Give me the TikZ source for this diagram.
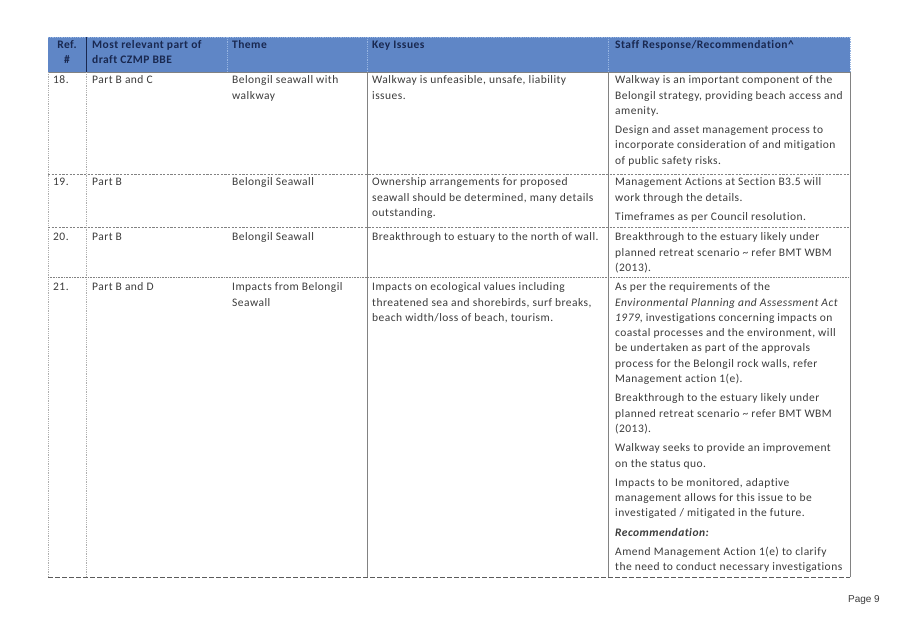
\documentclass[tikz,border=0pt]{standalone}
\usepackage{fontspec}
\setmainfont{Carlito}[LetterSpace=4.0, Ligatures={NoCommon}]
\newfontfamily\pagefont{Liberation Sans}
\definecolor{hdr}{RGB}{95,134,198}
\definecolor{hdrline}{RGB}{150,180,225}
\definecolor{hdrtext}{RGB}{25,40,80}
\definecolor{bodytext}{RGB}{60,60,60}
\definecolor{gridc}{RGB}{130,130,130}
\definecolor{gridl}{RGB}{175,175,175}
\newcommand\tstrut{\rule{0pt}{11pt}}
\begin{document}
\begin{tikzpicture}[x=1pt,y=-1pt,
  cell/.style={anchor=north west, inner sep=0pt, align=left,
    font=\fontsize{11.5}{15.3}\selectfont, text=bodytext},
  hcell/.style={anchor=north west, inner sep=0pt, align=left,
    font=\fontsize{11.5}{14.5}\selectfont\bfseries, text=hdrtext},
  rowdash/.style={draw=gridc, line width=0.8pt, dash pattern=on 2.2pt off 1.4pt},
  rowdot/.style={draw=gridc, line width=0.7pt, dash pattern=on 0.8pt off 0.8pt},
  botdash/.style={draw=gridc!70!black, line width=0.9pt, dash pattern=on 5pt off 2pt},
  vsolid/.style={draw=gridc, line width=0.7pt},
  vdot/.style={draw=gridl, line width=0.7pt, dash pattern=on 0.8pt off 1pt},
  hsep/.style={draw=hdrline, line width=0.6pt, dash pattern=on 0.8pt off 1pt}]
\useasboundingbox (0,0) rectangle (897,619);
\fill[white] (0,0) rectangle (897,619);

% header band
\fill[hdr] (48,37) rectangle (850,72);
\draw[hsep] (48,37) -- (850,37);
\draw[draw=hdrtext, line width=0.7pt] (86,37) -- (86,72);
\draw[hsep] (227,37) -- (227,72);
\draw[hsep] (367,37) -- (367,72);
\draw[hsep] (608,37) -- (608,72);
\draw[hsep] (850,37) -- (850,72);
\draw[draw=gridc, line width=0.6pt] (48,72) -- (850,72);

% header texts
\node[hcell, anchor=north, align=center] (h1) at (67,37.5) {\tstrut Ref.\\\#};
\node[hcell] (h2) at (92,37.5) {\tstrut Most relevant part of\\draft CZMP BBE};
\node[hcell] (h3) at (232,37.5) {\tstrut Theme};
\node[hcell] (h4) at (372,37.5) {\tstrut Key Issues};
\node[hcell] (h5) at (615,37.5) {\tstrut Staff Response/Recommendation\textasciicircum};

% vertical rules of the body
\draw[vdot] (48,72) -- (48,577);
\draw[vdot] (86,72) -- (86,577);
\draw[vsolid] (367,72) -- (367,577);
\draw[vsolid] (608,72) -- (608,577);
\draw[vsolid] (850,72) -- (850,577);

% row rules
\draw[rowdash] (48,174) -- (850,174);
\draw[rowdash] (48,227.5) -- (850,227.5);
\draw[rowdot] (48,277) -- (850,277);
\draw[botdash] (48,577) -- (850,577);

% row 18
\node[cell] (r18a) at (53,72.5) {\tstrut 18.};
\node[cell] (r18b) at (92,72.5) {\tstrut Part B and C};
\node[cell] (r18c) at (232,72.5) {\tstrut Belongil seawall with\\walkway};
\node[cell] (r18d) at (372,72.5) {\tstrut Walkway is unfeasible, unsafe, liability\\issues.};
\node[cell] (r18e) at (615,72.5) {\tstrut Walkway is an important component of the\\Belongil strategy, providing beach access and\\amenity.\\[4pt]Design and asset management process to\\incorporate consideration of and mitigation\\of public safety risks.};

% row 19
\node[cell] (r19a) at (53,174.5) {\tstrut 19.};
\node[cell] (r19b) at (92,174.5) {\tstrut Part B};
\node[cell] (r19c) at (232,174.5) {\tstrut Belongil Seawall};
\node[cell] (r19d) at (372,174.5) {\tstrut Ownership arrangements for proposed\\seawall should be determined, many details\\outstanding.};
\node[cell] (r19e) at (615,174.5) {\tstrut Management Actions at Section B3.5 will\\work through the details.\\[4pt]Timeframes as per Council resolution.};

% row 20
\node[cell] (r20a) at (53,229.5) {\tstrut 20.};
\node[cell] (r20b) at (92,229.5) {\tstrut Part B};
\node[cell] (r20c) at (232,229.5) {\tstrut Belongil Seawall};
\node[cell] (r20d) at (372,229.5) {\tstrut Breakthrough to estuary to the north of wall.};
\node[cell] (r20e) at (615,229.5) {\tstrut Breakthrough to the estuary likely under\\planned retreat scenario \textasciitilde{} refer BMT WBM\\(2013).};

% row 21
\node[cell] (r21a) at (53,279.5) {\tstrut 21.};
\node[cell] (r21b) at (92,279.5) {\tstrut Part B and D};
\node[cell] (r21c) at (232,279.5) {\tstrut Impacts from Belongil\\Seawall};
\node[cell] (r21d) at (372,279.5) {\tstrut Impacts on ecological values including\\threatened sea and shorebirds, surf breaks,\\beach width/loss of beach, tourism.};
\node[cell] (r21e) at (615,279.5) {\tstrut As per the requirements of the\\\textit{Environmental Planning and Assessment Act}\\\textit{1979}, investigations concerning impacts on\\coastal processes and the environment, will\\be undertaken as part of the approvals\\process for the Belongil rock walls, refer\\Management action 1(e).\\[4pt]Breakthrough to the estuary likely under\\planned retreat scenario \textasciitilde{} refer BMT WBM\\(2013).\\[4pt]Walkway seeks to provide an improvement\\on the status quo.\\[4pt]Impacts to be monitored, adaptive\\management allows for this issue to be\\investigated / mitigated in the future.\\[4pt]\textbf{\textit{Recommendation:}}\\[4pt]Amend Management Action 1(e) to clarify\\the need to conduct necessary investigations};

% page number
\node[anchor=east, inner sep=0pt, font=\pagefont\fontsize{10}{11}\selectfont, text=bodytext] (pg) at (880,600) {Page 9};
\end{tikzpicture}
\end{document}
